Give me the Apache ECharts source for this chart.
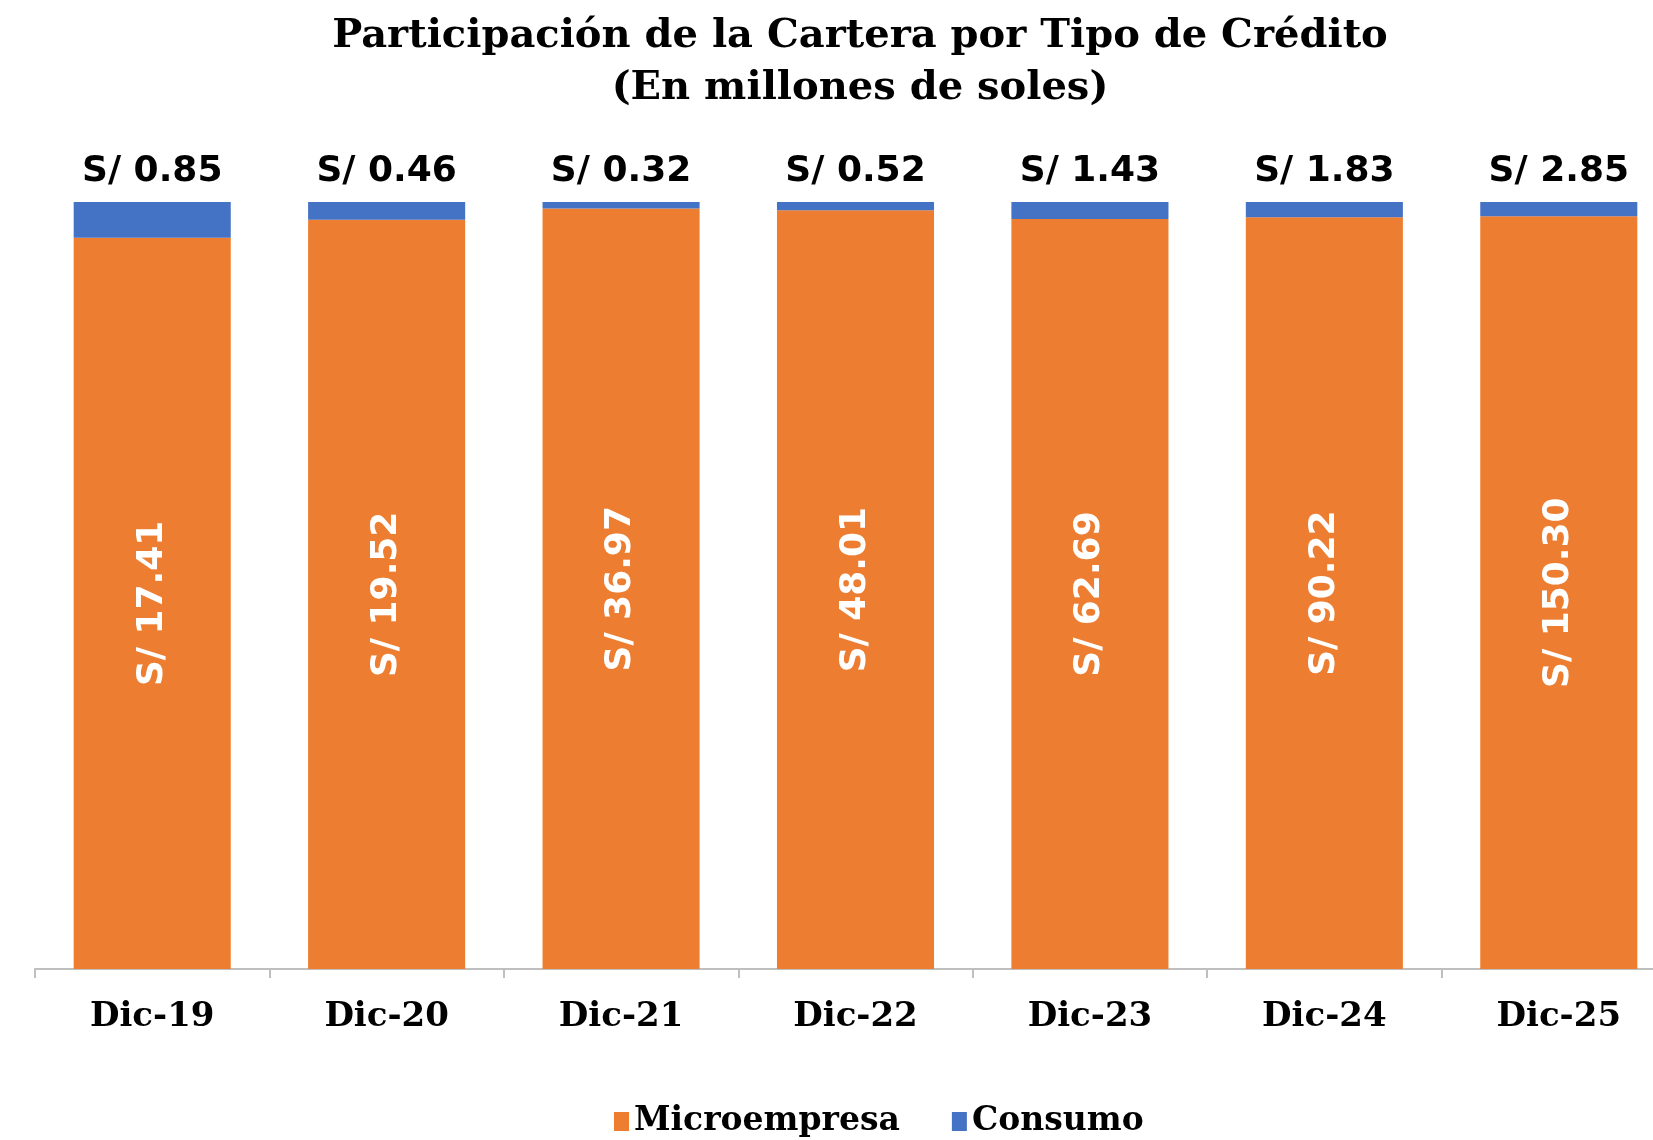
<!DOCTYPE html>
<html>
<head>
<meta charset="utf-8">
<script src="https://cdn.jsdelivr.net/npm/echarts@6/dist/echarts.min.js"></script>
<style>
  html, body { margin: 0; padding: 0; background: #fff; }
  #chart { width: 1653px; height: 1140px; }
</style>
</head>
<body>
<div id="chart"></div>
<script>
// values in millions of soles
const categories = ['Dic-19', 'Dic-20', 'Dic-21', 'Dic-22', 'Dic-23', 'Dic-24', 'Dic-25'];
const microempresa = [17.41, 19.52, 36.97, 48.01, 62.69, 90.22, 150.30];
const consumo = [0.85, 0.46, 0.32, 0.52, 1.43, 1.83, 2.85];

// 100% stacked: share of each type within the year's portfolio
const totals = microempresa.map((v, i) => v + consumo[i]);
const microShare = microempresa.map((v, i) => v / totals[i] * 100);
const consumoShare = consumo.map((v, i) => v / totals[i] * 100);

const chart = echarts.init(document.getElementById('chart'));

const option = {
    backgroundColor: '#ffffff',
    animation: false,
    title: {
        text: 'Participación de la Cartera por Tipo de Crédito\n(En millones de soles)',
        left: 855,
        top: 6,
        textAlign: 'center',
        textStyle: {
            fontFamily: 'DejaVu Serif',
            fontWeight: 'bold',
            fontSize: 40,
            lineHeight: 52,
            color: '#000'
        }
    },
    legend: {
        data: ['Microempresa', 'Consumo'],
        left: 609,
        top: 1100,
        itemWidth: 15,
        itemHeight: 19,
        itemGap: 52,
        icon: 'rect',
        textStyle: {
            fontFamily: 'DejaVu Serif',
            fontWeight: 'bold',
            fontSize: 33,
            color: '#000'
        }
    },
    grid: {
        left: 35,
        top: 202,
        bottom: 171,
        width: 1641,
        outerBoundsMode: 'none',
        containLabel: false
    },
    xAxis: {
        type: 'category',
        data: categories,
        axisLine: { lineStyle: { color: '#BFBFBF', width: 2 } },
        axisTick: { show: true, length: 9, lineStyle: { color: '#BFBFBF', width: 2 } },
        axisLabel: {
            margin: 31,
            fontFamily: 'DejaVu Serif',
            fontWeight: 'bold',
            fontSize: 34,
            color: '#000'
        }
    },
    yAxis: {
        type: 'value',
        min: 0,
        max: 100,
        show: false,
        splitLine: { show: false }
    },
    series: [
        {
            name: 'Microempresa',
            type: 'bar',
            stack: 'total',
            barCategoryGap: '33%',
            itemStyle: { color: '#ED7D31' },
            data: microShare,
            label: {
                show: true,
                position: 'inside',
                rotate: 90,
                color: '#fff',
                fontFamily: 'DejaVu Sans',
                fontWeight: 'bold',
                fontSize: 36,
                formatter: p => 'S/ ' + microempresa[p.dataIndex].toFixed(2)
            }
        },
        {
            name: 'Consumo',
            type: 'bar',
            stack: 'total',
            itemStyle: { color: '#4472C4' },
            data: consumoShare,
            label: {
                show: true,
                position: 'top',
                distance: 12,
                color: '#000',
                fontFamily: 'DejaVu Sans',
                fontWeight: 'bold',
                fontSize: 36,
                formatter: p => 'S/ ' + consumo[p.dataIndex].toFixed(2)
            }
        }
    ]
};

chart.setOption(option);
</script>
</body>
</html>
